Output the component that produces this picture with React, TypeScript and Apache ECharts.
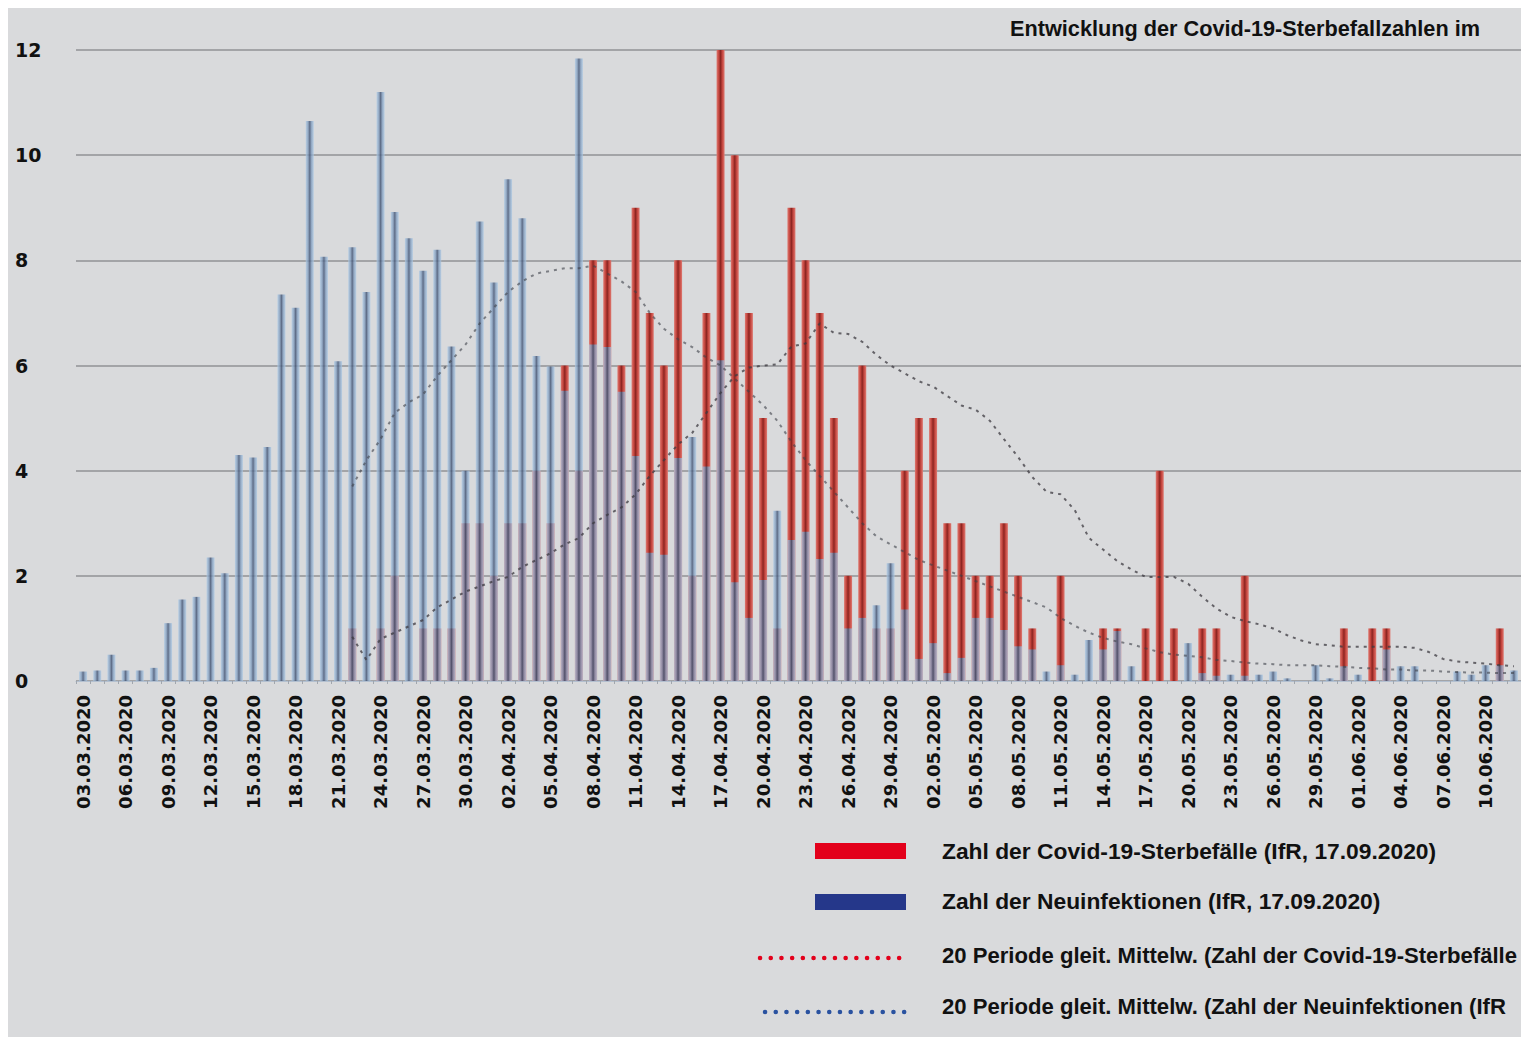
import React, { useEffect, useRef } from "react";
import * as echarts from "echarts";

const dates = [
  "03.03.2020","04.03.2020","05.03.2020","06.03.2020","07.03.2020","08.03.2020","09.03.2020","10.03.2020","11.03.2020","12.03.2020",
  "13.03.2020","14.03.2020","15.03.2020","16.03.2020","17.03.2020","18.03.2020","19.03.2020","20.03.2020","21.03.2020","22.03.2020",
  "23.03.2020","24.03.2020","25.03.2020","26.03.2020","27.03.2020","28.03.2020","29.03.2020","30.03.2020","31.03.2020","01.04.2020",
  "02.04.2020","03.04.2020","04.04.2020","05.04.2020","06.04.2020","07.04.2020","08.04.2020","09.04.2020","10.04.2020","11.04.2020",
  "12.04.2020","13.04.2020","14.04.2020","15.04.2020","16.04.2020","17.04.2020","18.04.2020","19.04.2020","20.04.2020","21.04.2020",
  "22.04.2020","23.04.2020","24.04.2020","25.04.2020","26.04.2020","27.04.2020","28.04.2020","29.04.2020","30.04.2020","01.05.2020",
  "02.05.2020","03.05.2020","04.05.2020","05.05.2020","06.05.2020","07.05.2020","08.05.2020","09.05.2020","10.05.2020","11.05.2020",
  "12.05.2020","13.05.2020","14.05.2020","15.05.2020","16.05.2020","17.05.2020","18.05.2020","19.05.2020","20.05.2020","21.05.2020",
  "22.05.2020","23.05.2020","24.05.2020","25.05.2020","26.05.2020","27.05.2020","28.05.2020","29.05.2020","30.05.2020","31.05.2020",
  "01.06.2020","02.06.2020","03.06.2020","04.06.2020","05.06.2020","06.06.2020","07.06.2020","08.06.2020","09.06.2020","10.06.2020",
  "11.06.2020","12.06.2020",
];

const deaths = [
  0, 0, 0, 0, 0, 0, 0, 0, 0, 0,
  0, 0, 0, 0, 0, 0, 0, 0, 0, 1,
  0, 1, 2, 0, 1, 1, 1, 3, 3, 2,
  3, 3, 4, 3, 6, 4, 8, 8, 6, 9,
  7, 6, 8, 2, 7, 12, 10, 7, 5, 1,
  9, 8, 7, 5, 2, 6, 1, 1, 4, 5,
  5, 3, 3, 2, 2, 3, 2, 1, 0, 2,
  0, 0, 1, 1, 0, 1, 4, 1, 0, 1,
  1, 0, 2, 0, 0, 0, 0, 0, 0, 1,
  0, 1, 1, 0, 0, 0, 0, 0, 0, 0,
  1, 0,
];

const infections = [
  0.18, 0.2, 0.5, 0.2, 0.2, 0.25, 1.1, 1.55, 1.6, 2.35,
  2.05, 4.3, 4.25, 4.45, 7.35, 7.1, 10.65, 8.07, 6.08, 8.25,
  7.4, 11.2, 8.92, 8.42, 7.8, 8.2, 6.36, 4.0, 8.74, 7.58,
  9.54, 8.8, 6.18, 5.98, 5.52, 11.84, 6.4, 6.35, 5.5, 4.28,
  2.44, 2.4, 4.24, 4.64, 4.08, 6.1, 1.88, 1.2, 1.92, 3.24,
  2.68, 2.84, 2.32, 2.44, 1.0, 1.2, 1.44, 2.24, 1.36, 0.42,
  0.72, 0.15, 0.44, 1.2, 1.2, 0.97, 0.66, 0.6, 0.18, 0.3,
  0.12, 0.78, 0.6, 0.95, 0.28, 0, 0, 0, 0.72, 0.15,
  0.1, 0.12, 0.1, 0.12, 0.18, 0.05, 0, 0.3, 0.05, 0.28,
  0.12, 0, 0.6, 0.28, 0.28, 0, 0, 0.18, 0.12, 0.3,
  0.3, 0.2,
];

// 20-period moving averages (start at 22.03.2020)
const deathsMA = [
  null, null, null, null, null, null, null, null, null, null,
  null, null, null, null, null, null, null, null, null,
  0.84, 0.4, 0.8, 0.92, 1.04, 1.16, 1.4, 1.55, 1.7, 1.8,
  1.9, 1.98, 2.17, 2.3, 2.43, 2.6, 2.72, 3.0, 3.16, 3.3,
  3.55, 3.9, 4.2, 4.5, 4.72, 5.1, 5.48, 5.8, 5.96, 6.0,
  6.02, 6.36, 6.42, 6.8, 6.62, 6.6, 6.45, 6.2, 6.0, 5.85,
  5.7, 5.6, 5.42, 5.24, 5.16, 4.95, 4.6, 4.26, 3.88, 3.6,
  3.55, 3.25, 2.72, 2.5, 2.28, 2.12, 1.98, 1.98, 1.98, 1.85,
  1.6, 1.38, 1.22, 1.14, 1.08, 1.0, 0.87, 0.77, 0.7, 0.68,
  0.65, 0.65, 0.65, 0.65, 0.65, 0.63, 0.55, 0.42, 0.37, 0.35,
  0.33, 0.3, 0.28,
];

const infectionsMA = [
  null, null, null, null, null, null, null, null, null, null,
  null, null, null, null, null, null, null, null, null,
  3.7, 4.2, 4.6, 5.1, 5.3, 5.45, 5.8, 6.1, 6.4, 6.8,
  7.1, 7.4, 7.6, 7.75, 7.8, 7.85, 7.85, 7.9, 7.75, 7.6,
  7.4, 7.0, 6.7, 6.5, 6.35, 6.15, 6.0, 5.75, 5.5, 5.25,
  4.95, 4.55, 4.2, 3.9, 3.6, 3.3, 3.0, 2.75, 2.6, 2.45,
  2.3, 2.2, 2.1, 2.0, 1.9, 1.8, 1.7, 1.6, 1.5, 1.4,
  1.2, 1.05, 0.92, 0.82, 0.75, 0.7, 0.62, 0.55, 0.5, 0.48,
  0.45, 0.4, 0.38, 0.35, 0.33, 0.32, 0.3, 0.3, 0.3, 0.28,
  0.27, 0.25, 0.24, 0.22, 0.22, 0.2, 0.2, 0.18, 0.17, 0.16,
  0.16, 0.15, 0.15,
];

const titleText = "Entwicklung der Covid-19-Sterbefallzahlen im";
const legendLabels = [
  "Zahl der Covid-19-Sterbefälle (IfR, 17.09.2020)",
  "Zahl der Neuinfektionen (IfR, 17.09.2020)",
  "20 Periode gleit. Mittelw. (Zahl der Covid-19-Sterbefälle",
  "20 Periode gleit. Mittelw. (Zahl der Neuinfektionen (IfR",
];

const BG = "#d9dadc";
const TICK_FONT = "'DejaVu Sans', Verdana, sans-serif";
const TEXT_FONT = "'Liberation Sans', Arial, sans-serif";

export default function App() {
  const ref = useRef<HTMLDivElement>(null);

  useEffect(() => {
    if (!ref.current) return;
    const chart = echarts.init(ref.current, undefined, { renderer: "svg" });

    const redGrad = new echarts.graphic.LinearGradient(0, 0, 1, 0, [
      { offset: 0, color: "#de7a72" },
      { offset: 0.28, color: "#c5463f" },
      { offset: 0.5, color: "#8a2521" },
      { offset: 0.72, color: "#c5463f" },
      { offset: 1, color: "#de7a72" },
    ]);
    const blueGrad = new echarts.graphic.LinearGradient(0, 0, 1, 0, [
      { offset: 0, color: "rgba(172,202,230,0.72)" },
      { offset: 0.28, color: "rgba(128,156,190,0.78)" },
      { offset: 0.5, color: "rgba(72,88,118,0.85)" },
      { offset: 0.72, color: "rgba(128,156,190,0.78)" },
      { offset: 1, color: "rgba(172,202,230,0.72)" },
    ]);

    const legendTextStyle = (text: string, size: number) => ({
      text,
      fill: "#111",
      font: `bold ${size}px ${TEXT_FONT}`,
      verticalAlign: "middle",
      align: "left",
    });

    chart.setOption({
      animation: false,
      backgroundColor: BG,
      grid: { left: 68, right: 0, top: 42, bottom: 356, containLabel: false },
      xAxis: {
        type: "category",
        data: dates,
        boundaryGap: true,
        axisLine: { show: true, lineStyle: { color: "#b3c0d0", width: 1 } },
        axisTick: { show: true, interval: 0, length: 3, lineStyle: { color: "#a0a6ae" } },
        axisLabel: {
          interval: 2,
          rotate: 90,
          margin: 14,
          color: "#111",
          fontFamily: TICK_FONT,
          fontWeight: "bold",
          fontSize: 18,
        },
        splitLine: { show: false },
      },
      yAxis: {
        type: "value",
        min: 0,
        max: 12,
        interval: 2,
        axisLine: { show: false },
        axisTick: { show: false },
        axisLabel: {
          color: "#111",
          fontFamily: TICK_FONT,
          fontWeight: "bold",
          fontSize: 19,
          align: "left",
          margin: 61,
        },
        splitLine: { show: true, lineStyle: { color: "#a3a4a7", width: 2 } },
      },
      series: [
        {
          name: legendLabels[0],
          type: "bar",
          data: deaths,
          barWidth: 8,
          barGap: "-100%",
          itemStyle: { color: redGrad },
        },
        {
          name: legendLabels[1],
          type: "bar",
          data: infections,
          barWidth: 8,
          barGap: "-100%",
          itemStyle: { color: blueGrad },
        },
        {
          name: legendLabels[2],
          type: "line",
          data: deathsMA,
          symbol: "none",
          connectNulls: false,
          lineStyle: { color: "#3c3a40", width: 2, type: [3, 5], opacity: 0.75 },
          z: 5,
        },
        {
          name: legendLabels[3],
          type: "line",
          data: infectionsMA,
          symbol: "none",
          connectNulls: false,
          lineStyle: { color: "#3c4048", width: 2, type: [3, 5], opacity: 0.6 },
          z: 5,
        },
      ],
      graphic: [
        {
          type: "text",
          x: 1002,
          y: 20,
          style: {
            text: titleText,
            fill: "#111",
            font: `bold 21.7px ${TEXT_FONT}`,
            verticalAlign: "middle",
            align: "left",
          },
        },
        { type: "rect", shape: { x: 807, y: 835, width: 91, height: 16 }, style: { fill: "#e3001b" } },
        { type: "rect", shape: { x: 807, y: 886, width: 91, height: 16 }, style: { fill: "#25378a" } },
        {
          type: "line",
          shape: { x1: 752, y1: 950, x2: 900, y2: 950 },
          style: { stroke: "#e3001b", lineWidth: 4.5, lineCap: "round", lineDash: [0.1, 10.6] },
        },
        {
          type: "line",
          shape: { x1: 757, y1: 1004, x2: 905, y2: 1004 },
          style: { stroke: "#2a52a0", lineWidth: 4.5, lineCap: "round", lineDash: [0.1, 10.6] },
        },
        { type: "text", x: 934, y: 843, style: legendTextStyle(legendLabels[0], 22.8) },
        { type: "text", x: 934, y: 893, style: legendTextStyle(legendLabels[1], 22.8) },
        { type: "text", x: 934, y: 947, style: legendTextStyle(legendLabels[2], 22.1) },
        { type: "text", x: 934, y: 998, style: legendTextStyle(legendLabels[3], 22.1) },
      ],
    });

    return () => chart.dispose();
  }, []);

  return (
    <div
      ref={ref}
      style={{
        position: "fixed",
        left: 8,
        top: 8,
        width: 1513,
        height: 1029,
        background: BG,
        overflow: "hidden",
      }}
    />
  );
}
